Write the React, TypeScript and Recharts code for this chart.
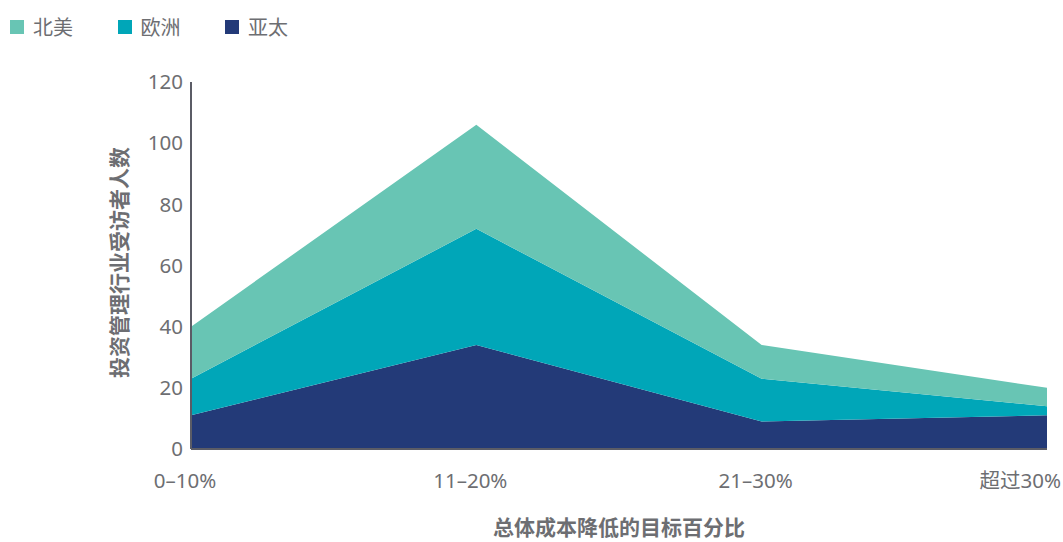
import React from "react"
import { AreaChart, Area, XAxis, YAxis } from "recharts"

const CATEGORIES = ["0–10%", "11–20%", "21–30%", "超过30%"]
const APAC = [11, 34, 9, 11]
const EUROPE = [12, 38, 14, 3]
const NORTH_AMERICA = [17, 34, 11, 6]
const Y_TICKS = [0, 20, 40, 60, 80, 100, 120]

const SERIES = [
  { key: "apac", name: "亚太", color: "#233a78" },
  { key: "europe", name: "欧洲", color: "#00a6b8" },
  { key: "na", name: "北美", color: "#68c5b4" },
]
const LEGEND_ORDER = ["na", "europe", "apac"]

const FONT = '"Noto Sans", "Noto Sans CJK SC", sans-serif'
const TEXT = "#6d6e72"
const AXIS = "#5b5c66"

const data = CATEGORIES.map((c, i) => ({
  name: c,
  apac: APAC[i],
  europe: EUROPE[i],
  na: NORTH_AMERICA[i],
}))

function XTick({ x, y, payload, index }: any) {
  const last = index === CATEGORIES.length - 1
  return (
    <text
      x={last ? x + 14 : x - 6}
      y={y}
      dy={31}
      textAnchor={last ? "end" : "middle"}
      fill={TEXT}
      fontSize={20.5}
      fontFamily={FONT}
    >
      {payload.value}
    </text>
  )
}

export default function App() {
  return (
    <div style={{ position: "absolute", left: 0, top: 0, width: 1063, height: 542, fontFamily: FONT }}>
      <div style={{ position: "absolute", left: 10, top: 12, display: "flex", zIndex: 2 }}>
        {LEGEND_ORDER.map((k) => {
          const s = SERIES.find((x) => x.key === k)!
          return (
            <div key={k} style={{ display: "flex", alignItems: "center", width: 107.5, color: TEXT, fontSize: 20 }}>
              <span style={{ width: 14, height: 14, background: s.color, marginRight: 9, display: "inline-block" }} />
              {s.name}
            </div>
          )
        })}
      </div>
      <AreaChart width={1063} height={542} data={data} margin={{ top: 82, right: 16, left: 0, bottom: 0 }}>
        <XAxis
          dataKey="name"
          axisLine={{ stroke: AXIS, strokeWidth: 2 }}
          tickLine={false}
          height={93}
          tick={<XTick />}
          interval={0}
          label={({ viewBox }: any) => (
            <text
              x={viewBox.x + viewBox.width / 2}
              y={535}
              textAnchor="middle"
              fill={TEXT}
              fontSize={21}
              fontWeight="bold"
              fontFamily={FONT}
            >
              总体成本降低的目标百分比
            </text>
          )}
        />
        <YAxis
          width={191}
          domain={[0, 120]}
          ticks={Y_TICKS}
          axisLine={{ stroke: AXIS, strokeWidth: 2 }}
          tickLine={false}
          tickMargin={2}
          tick={{ fill: TEXT, fontSize: 20.5, fontFamily: FONT }}
          label={({ viewBox }: any) => {
            const cx = 127
            const cy = viewBox.y + viewBox.height / 2 - 3
            return (
              <text
                x={cx}
                y={cy}
                transform={`rotate(-90 ${cx} ${cy})`}
                textAnchor="middle"
                fill={TEXT}
                fontSize={21}
                fontWeight="bold"
                fontFamily={FONT}
              >
                投资管理行业受访者人数
              </text>
            )
          }}
        />
        {SERIES.map((s) => (
          <Area
            key={s.key}
            type="linear"
            dataKey={s.key}
            name={s.name}
            stackId="1"
            stroke="none"
            fill={s.color}
            fillOpacity={1}
            isAnimationActive={false}
          />
        ))}
      </AreaChart>
    </div>
  )
}
